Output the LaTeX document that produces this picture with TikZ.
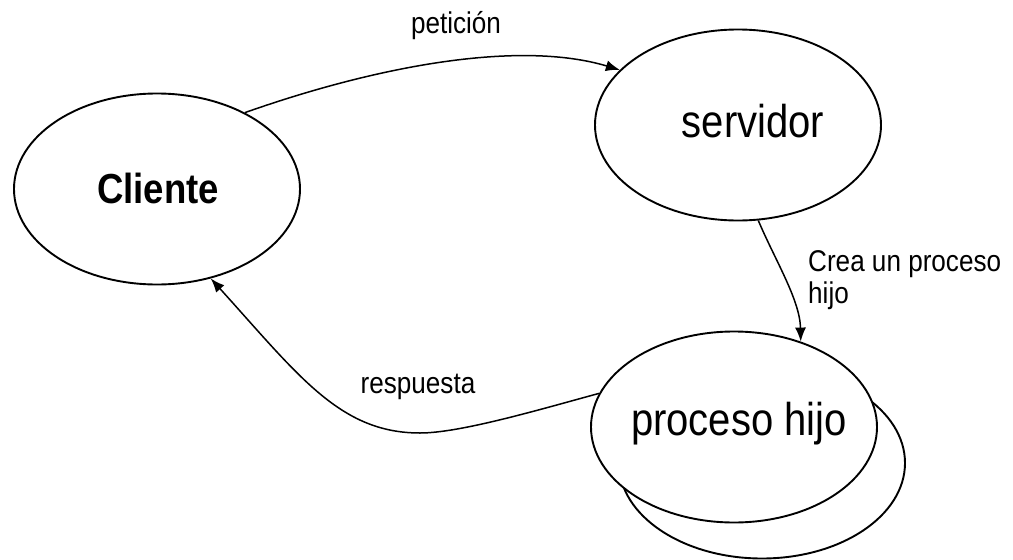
\documentclass[tikz,border=0pt]{standalone}
\usepackage{fontspec}
\setmainfont{Liberation Sans}
\usetikzlibrary{arrows.meta,shapes.geometric}
\newcommand{\narrow}[1]{\scalebox{0.87}[1]{#1}}
\begin{document}
\begin{tikzpicture}[x=1pt,y=-1pt,
  bubble/.style={draw=black,line width=1.9pt,ellipse,fill=white,inner sep=0pt,
    minimum width=286pt,minimum height=191pt},
  boldtxt/.style={inner sep=0pt,font=\fontsize{42}{46}\selectfont\bfseries},
  bigtxt/.style={inner sep=0pt,font=\fontsize{46}{50}\selectfont},
  smalltxt/.style={inner sep=0pt,font=\fontsize{30}{32}\selectfont},
  link/.style={draw=black,line width=1.5pt,-{Latex[length=14pt,width=11pt]}}]
\useasboundingbox (0,0) rectangle (1013,560);

% shadow copy behind the child-process bubble
\node[bubble] (shadow) at (762,463) {};

% the three processes
\node[bubble] (cli)  at (157,189) {};
\node[bubble] (srv)  at (738,125) {};
\node[bubble] (proc) at (734,427) {};

\node[boldtxt,anchor=base] (tcli)  at (158,203) {\narrow{Cliente}};
\node[bigtxt,anchor=base] (tsrv)  at (753,137) {\narrow{servidor}};
\node[bigtxt,anchor=base] (tproc) at (739,435) {\narrow{proceso hijo}};

% request from client to server
\draw[link] (cli.41) .. controls (380,65) and (520,40) .. (srv.155);
\node[smalltxt,anchor=base] (lpet) at (456,33) {\narrow{petición}};

% server spawns the child process
\draw[link] (srv.282) .. controls (775,260) and (800,300) .. (proc.52);
\node[smalltxt,anchor=north west,align=left] (lcrea) at (808,250)
  {\narrow{Crea un proceso}\\\narrow{hijo}};

% reply from the child process back to the client
\coordinate (low) at (420,433);
\draw[link] (proc.166) .. controls (538,410) and (460,433) .. (low)
  .. controls (340,433) and (299,376) .. (cli.301.6);
\node[smalltxt,anchor=base] (lresp) at (418,393) {\narrow{respuesta}};
\end{tikzpicture}
\end{document}
